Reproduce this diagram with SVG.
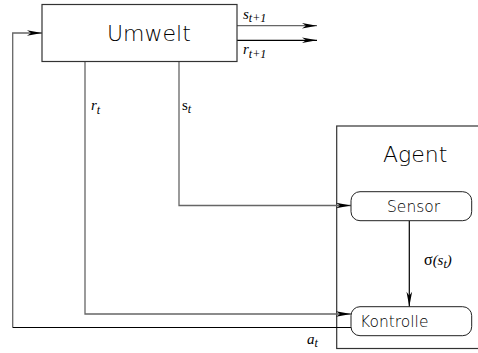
<svg xmlns="http://www.w3.org/2000/svg" width="478" height="353" viewBox="0 0 478 353">
<style>
.box{fill:#fff;stroke:#333;stroke-width:1.2}
.node{fill:#fff;stroke:#222;stroke-width:1}
.ln{fill:none;stroke:#666;stroke-width:1.3}
.lk{fill:none;stroke:#000;stroke-width:1.2}
.sans{font-family:"DejaVu Sans","Liberation Sans",sans-serif;font-weight:200;fill:#000}
.ser{font-family:"Liberation Serif","Times New Roman",serif;font-style:italic;fill:#000}
</style>
<defs>
<marker id="ah" viewBox="-16 -4 17 8" refX="0" refY="0" markerWidth="17" markerHeight="8" markerUnits="userSpaceOnUse" orient="auto">
<path d="M0,0 L-15,-2.8 L-11,0 L-15,2.8 Z" fill="#000"/>
</marker>
</defs>
<rect width="478" height="353" fill="#fff"/>
<g id="agent">
<rect class="box" x="336.7" y="126" width="150" height="222.5"/>
<text class="sans" x="383" y="162" font-size="22">Agent</text>
</g>
<g id="connectors">
<path class="ln" d="M237,25.7 H317" marker-end="url(#ah)"/>
<path class="lk" d="M237,40.3 H317" marker-end="url(#ah)"/>
<path class="ln" d="M12.7,327.5 V33 H42" marker-end="url(#ah)"/>
<path class="lk" d="M351,327.5 H12.7"/>
<path class="ln" d="M85,61.5 V314 H351" marker-end="url(#ah)"/>
<path class="ln" d="M179,61.5 V205.5 H351" marker-end="url(#ah)"/>
<path class="lk" d="M409.3,220.7 V306.7" stroke-width="1" marker-end="url(#ah)"/>
</g>
<g id="umwelt">
<rect class="box" x="42" y="4.5" width="195" height="57"/>
<text class="sans" x="107" y="41" font-size="22">Umwelt</text>
</g>
<g id="sensor">
<rect class="node" x="351" y="191.7" width="120.7" height="29" rx="9"/>
<text class="sans" x="387" y="212" font-size="15.5">Sensor</text>
</g>
<g id="kontrolle">
<rect class="node" x="351" y="306.7" width="120.7" height="29" rx="9"/>
<text class="sans" x="360" y="327" font-size="15.5">Kontrolle</text>
</g>
<g id="labels">
<text class="ser" x="243" y="18.5" font-size="15">s<tspan font-size="12" dy="3">t+1</tspan></text>
<text class="ser" x="243" y="54" font-size="15">r<tspan font-size="12" dy="4">t+1</tspan></text>
<text class="ser" x="91" y="110" font-size="15">r<tspan font-size="12" dy="4">t</tspan></text>
<text class="ser" x="182" y="110" font-size="15"><tspan font-style="normal">s</tspan><tspan font-size="12" dy="3">t</tspan></text>
<text class="ser" x="424" y="265" font-size="16"><tspan font-style="normal">σ</tspan><tspan font-size="15">(s</tspan><tspan font-size="12" dy="3">t</tspan><tspan font-size="15" dy="-3">)</tspan></text>
<text class="ser" x="307" y="344" font-size="15">a<tspan font-size="12" dy="3">t</tspan></text>
</g>
</svg>
